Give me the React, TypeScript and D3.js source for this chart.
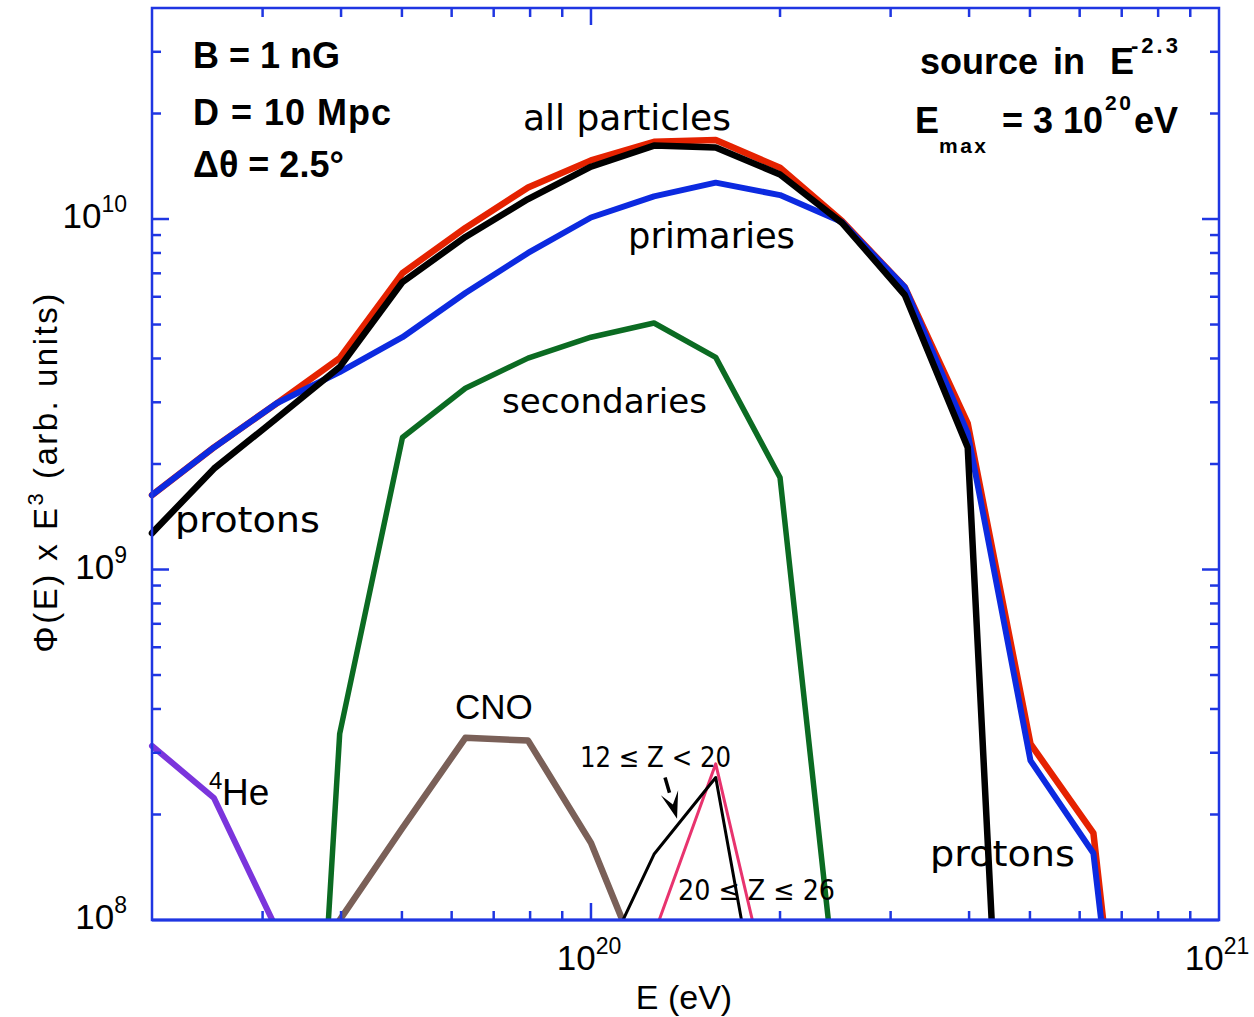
import React from 'react';
import * as d3 from 'd3';

// Energies (eV) of the tabulated points
const energies = [2.0e19, 2.51e19, 3.16e19, 3.98e19, 5.01e19, 6.31e19, 7.94e19, 1.0e20, 1.26e20, 1.58e20, 2.0e20, 2.51e20, 3.16e20, 3.98e20, 5.01e20, 6.31e20, 7.94e20];

// Phi(E) x E^3 values (arb. units); null = not drawn
const allParticles = [1.63e9, 2.23e9, 2.98e9, 4.01e9, 7.01e9, 9.43e9, 1.23e10, 1.47e10, 1.66e10, 1.68e10, 1.40e10, 9.87e9, 6.39e9, 2.61e9, 3.18e8, 1.77e8, 4.5e6];
const primaries = [1.63e9, 2.23e9, 2.98e9, 3.66e9, 4.60e9, 6.15e9, 8.0e9, 1.01e10, 1.16e10, 1.27e10, 1.17e10, 9.8e9, 6.39e9, 2.45e9, 2.85e8, 1.55e8, 4.4e6];
const protons = [1.27e9, 1.94e9, 2.70e9, 3.78e9, 6.61e9, 8.89e9, 1.14e10, 1.41e10, 1.62e10, 1.60e10, 1.34e10, 9.75e9, 6.07e9, 2.23e9, 6.5e5, null, null];
const secondaries = [null, null, 3.7e5, 3.40e8, 2.38e9, 3.29e9, 4.01e9, 4.60e9, 5.05e9, 4.03e9, 1.83e9, 4.4e7, null, null, null, null, null];
const cno = [null, null, null, 1.0e8, 1.83e8, 3.31e8, 3.25e8, 1.66e8, 6.0e7, null, null, null, null, null, null, null, null];
const z12to20 = [null, null, null, null, null, null, null, 6.4e7, 1.54e8, 2.55e8, 2.46e7, null, null, null, null, null, null];
const z20to26 = [null, null, null, null, null, null, null, null, 9.1e7, 2.79e8, 4.6e7, null, null, null, null, null, null];
const helium4 = [3.14e8, 2.23e8, 9.4e7, null, null, null, null, null, null, null, null, null, null, null, null, null, null];

// Arrow annotation (data coordinates: [E, value])
const arrowFrom: [number, number] = [1.312e20, 2.55e8];
const arrowTo: [number, number] = [1.371e20, 1.945e8];

const xDomain: [number, number] = [2e19, 1e21];
const yDomain: [number, number] = [1e8, 4e10];
const xTickLabels = [{ v: 1e20, base: '10', exp: '20' }, { v: 1e21, base: '10', exp: '21' }];
const yTickLabels = [{ v: 1e10, base: '10', exp: '10' }, { v: 1e9, base: '10', exp: '9' }, { v: 1e8, base: '10', exp: '8' }];

const L = 152, R = 1219, T = 8, B = 920;
const AXIS = '#1f36e2';
const HELV = 'Liberation Sans, Arial, Helvetica, sans-serif';
const GEN = 'DejaVu Sans, Verdana, sans-serif';

export default function App() {
  const x = d3.scaleLog().domain(xDomain).range([L, R]);
  const y = d3.scaleLog().domain(yDomain).range([B, T]);

  const mk = (vals: (number | null)[]) => {
    const pts = energies.map((e, i) => ({ e, v: vals[i] }));
    return d3.line<{ e: number; v: number | null }>()
      .defined(d => d.v != null)
      .x(d => x(d.e))
      .y(d => y(d.v as number))(pts) || '';
  };

  const series = [
    { vals: helium4, color: '#7b35dc', w: 6 },
    { vals: secondaries, color: '#0b6b22', w: 5.5 },
    { vals: cno, color: '#7a6058', w: 6.5 },
    { vals: z20to26, color: '#e8336e', w: 3 },
    { vals: z12to20, color: '#000000', w: 3 },
    { vals: allParticles, color: '#e52200', w: 6.5 },
    { vals: primaries, color: '#0c2ae0', w: 6 },
    { vals: protons, color: '#000000', w: 6.5 },
  ];

  const isMajor = (v: number) => Math.abs(Math.log10(v) - Math.round(Math.log10(v))) < 1e-6;
  const xt = x.ticks().filter(v => v > xDomain[0] * 1.001 && v < xDomain[1] * 0.999);
  const yt = y.ticks().filter(v => v > yDomain[0] * 1.001 && v < yDomain[1] * 0.999);

  const ax = x(arrowFrom[0]), ay = y(arrowFrom[1]);
  const bx = x(arrowTo[0]), by = y(arrowTo[1]);
  const ang = Math.atan2(by - ay, bx - ax);
  const hl = 27, hw = 9;
  const hx = bx - hl * Math.cos(ang), hy = by - hl * Math.sin(ang);
  const nx = -Math.sin(ang), ny = Math.cos(ang);
  const notchX = bx - hl * 0.55 * Math.cos(ang), notchY = by - hl * 0.55 * Math.sin(ang);
  const head = `M${bx},${by} L${hx + nx * hw},${hy + ny * hw} L${notchX},${notchY} L${hx - nx * hw},${hy - ny * hw} Z`;

  return (
    <svg width={1254} height={1017} style={{ position: 'absolute', left: 0, top: 0, background: '#fff' }}>
      <defs>
        <clipPath id="plotclip">
          <rect x={L - 5} y={T} width={R - L + 5} height={B - T} />
        </clipPath>
      </defs>
      <rect x={0} y={0} width={1254} height={1017} fill="#fff" />

      <g clipPath="url(#plotclip)" fill="none" strokeLinejoin="round" strokeLinecap="round">
        {series.map((s, i) => (
          <path key={i} d={mk(s.vals)} stroke={s.color} strokeWidth={s.w} />
        ))}
      </g>

      {/* arrow */}
      <line x1={ax} y1={ay} x2={hx} y2={hy} stroke="#000" strokeWidth={3.5} />
      <path d={head} fill="#000" />

      {/* frame */}
      <rect x={L} y={T} width={R - L} height={B - T} fill="none" stroke={AXIS} strokeWidth={2.5} />
      <line x1={L} x2={R} y1={B} y2={B} stroke={AXIS} strokeWidth={3} />

      {/* ticks */}
      <g stroke={AXIS} strokeWidth={2.5}>
        {xt.map((v, i) => {
          const len = isMajor(v) ? 17 : 9;
          const px = x(v);
          return (
            <g key={'x' + i}>
              <line x1={px} x2={px} y1={B} y2={B - len} />
              <line x1={px} x2={px} y1={T} y2={T + len} />
            </g>
          );
        })}
        {yt.map((v, i) => {
          const len = isMajor(v) ? 17 : 9;
          const py = y(v);
          return (
            <g key={'y' + i}>
              <line x1={L} x2={L + len} y1={py} y2={py} />
              <line x1={R} x2={R - len} y1={py} y2={py} />
            </g>
          );
        })}
      </g>

      {/* tick labels */}
      <g fontFamily={HELV} fill="#000">
        {xTickLabels.map((t, i) => (
          <text key={i} x={x(t.v) - 2} y={970} textAnchor="middle" fontSize={35}>
            {t.base}<tspan fontSize={23} dy={-16}>{t.exp}</tspan>
          </text>
        ))}
        {yTickLabels.map((t, i) => (
          <text key={i} x={127} y={y(t.v) + 9} textAnchor="end" fontSize={35}>
            {t.base}<tspan fontSize={23} dy={-16}>{t.exp}</tspan>
          </text>
        ))}
      </g>

      {/* axis titles */}
      <text x={684} y={1009} textAnchor="middle" fontFamily={HELV} fontSize={34}>E (eV)</text>
      <text transform="translate(57,472) rotate(-90)" textAnchor="middle" fontFamily={HELV} fontSize={33} letterSpacing={2.5}>
        Φ(E) x E<tspan fontSize={22} dy={-14}>3</tspan><tspan dy={14}> (arb. units)</tspan>
      </text>

      {/* parameter text, upper left */}
      <g fontFamily={HELV} fontWeight="bold" fontSize={36} fill="#000">
        <text x={193} y={68}>B = 1 nG</text>
        <text x={193} y={125} letterSpacing={1}>D = 10 Mpc</text>
        <text x={193} y={177}>Δθ = 2.5°</text>
      </g>

      {/* parameter text, upper right */}
      <g fontFamily={HELV} fontWeight="bold" fill="#000">
        <text x={920} y={74} fontSize={36}>source</text>
        <text x={1053} y={74} fontSize={36}>in</text>
        <text x={1110} y={74} fontSize={36}>E</text>
        <text x={1131} y={53} fontSize={22} letterSpacing={3}>-2.3</text>
        <text x={915} y={133} fontSize={36}>E</text>
        <text x={939} y={153} fontSize={21} letterSpacing={2.5}>max</text>
        <text x={1002} y={133} fontSize={36}>= 3 10</text>
        <text x={1105} y={110} fontSize={21} letterSpacing={2.5}>20</text>
        <text x={1134} y={133} fontSize={36}>eV</text>
      </g>

      {/* curve labels */}
      <g fontFamily={GEN} fill="#000">
        <text x={523} y={130} fontSize={36} textLength={208} lengthAdjust="spacingAndGlyphs">all  particles</text>
        <text x={628} y={248} fontSize={35} textLength={167} lengthAdjust="spacingAndGlyphs">primaries</text>
        <text x={502} y={413} fontSize={34} textLength={205} lengthAdjust="spacingAndGlyphs">secondaries</text>
        <text x={175} y={532} fontSize={36} textLength={145} lengthAdjust="spacingAndGlyphs">protons</text>
        <text x={930} y={866} fontSize={36} textLength={145} lengthAdjust="spacingAndGlyphs">protons</text>
        <text x={580} y={767} fontSize={28} textLength={151} lengthAdjust="spacingAndGlyphs">12 ≤ Z &lt; 20</text>
        <text x={678} y={900} fontSize={28} textLength={157} lengthAdjust="spacingAndGlyphs">20 ≤ Z ≤ 26</text>
      </g>
      <g fontFamily={HELV} fill="#000">
        <text x={455} y={719} fontSize={35}>CNO</text>
        <text x={209} y={789} fontSize={24}>4</text>
        <text x={222} y={805} fontSize={37}>He</text>
      </g>
    </svg>
  );
}
